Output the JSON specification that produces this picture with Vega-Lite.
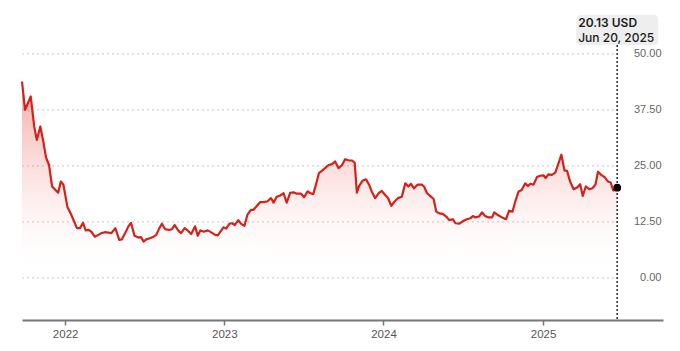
{
  "$schema": "https://vega.github.io/schema/vega-lite/v6.json",
  "width": 641,
  "height": 310,
  "autosize": {"type": "none"},
  "padding": {"left": 22, "top": 10, "right": 17, "bottom": 31},
  "background": "#ffffff",
  "config": {
    "view": {"stroke": null},
    "font": "Liberation Sans"
  },
  "datasets": {
    "prices": [
      {"d":"2021-09-24","v":43.8},{"d":"2021-10-01","v":37.5},{"d":"2021-10-14","v":40.5},{"d":"2021-10-22","v":33.8},
      {"d":"2021-10-28","v":30.8},{"d":"2021-11-05","v":33.8},{"d":"2021-11-12","v":30.4},{"d":"2021-11-18","v":26.9},
      {"d":"2021-11-25","v":25.2},{"d":"2021-12-02","v":20.4},{"d":"2021-12-16","v":19.0},{"d":"2021-12-22","v":21.5},
      {"d":"2021-12-28","v":20.8},{"d":"2022-01-06","v":15.9},{"d":"2022-01-15","v":14.1},{"d":"2022-01-28","v":11.1},
      {"d":"2022-02-04","v":11.1},{"d":"2022-02-11","v":12.3},{"d":"2022-02-17","v":10.6},{"d":"2022-02-24","v":10.7},
      {"d":"2022-03-02","v":10.3},{"d":"2022-03-10","v":9.2},{"d":"2022-03-18","v":9.6},{"d":"2022-03-25","v":10.0},
      {"d":"2022-04-02","v":10.2},{"d":"2022-04-10","v":10.1},{"d":"2022-04-17","v":10.0},{"d":"2022-04-26","v":11.1},
      {"d":"2022-05-05","v":8.5},{"d":"2022-05-11","v":8.6},{"d":"2022-05-19","v":10.1},{"d":"2022-05-26","v":11.5},
      {"d":"2022-06-01","v":12.3},{"d":"2022-06-09","v":9.4},{"d":"2022-06-18","v":9.0},{"d":"2022-06-24","v":9.1},
      {"d":"2022-06-30","v":8.1},{"d":"2022-07-06","v":8.6},{"d":"2022-07-16","v":8.9},{"d":"2022-07-23","v":9.2},
      {"d":"2022-07-29","v":9.6},{"d":"2022-08-05","v":11.1},{"d":"2022-08-11","v":12.1},{"d":"2022-08-18","v":10.9},
      {"d":"2022-08-28","v":10.7},{"d":"2022-09-03","v":10.9},{"d":"2022-09-09","v":11.8},{"d":"2022-09-18","v":10.5},
      {"d":"2022-09-24","v":10.0},{"d":"2022-10-02","v":11.1},{"d":"2022-10-09","v":10.6},{"d":"2022-10-17","v":9.8},
      {"d":"2022-10-26","v":11.5},{"d":"2022-11-01","v":9.4},{"d":"2022-11-07","v":10.6},{"d":"2022-11-15","v":10.3},
      {"d":"2022-11-24","v":10.6},{"d":"2022-12-03","v":10.1},{"d":"2022-12-11","v":9.6},{"d":"2022-12-17","v":9.5},
      {"d":"2022-12-30","v":11.3},{"d":"2023-01-05","v":11.0},{"d":"2023-01-13","v":12.1},{"d":"2023-01-19","v":12.2},
      {"d":"2023-01-25","v":11.8},{"d":"2023-02-02","v":12.9},{"d":"2023-02-08","v":12.1},{"d":"2023-02-16","v":11.6},
      {"d":"2023-02-23","v":14.1},{"d":"2023-03-03","v":15.2},{"d":"2023-03-09","v":15.2},{"d":"2023-03-17","v":16.1},
      {"d":"2023-03-24","v":16.9},{"d":"2023-04-02","v":16.9},{"d":"2023-04-10","v":17.1},{"d":"2023-04-18","v":17.8},
      {"d":"2023-04-24","v":16.8},{"d":"2023-05-01","v":18.1},{"d":"2023-05-09","v":18.4},{"d":"2023-05-17","v":18.9},
      {"d":"2023-05-24","v":16.8},{"d":"2023-06-01","v":19.0},{"d":"2023-06-09","v":19.1},{"d":"2023-06-16","v":18.8},
      {"d":"2023-06-26","v":18.8},{"d":"2023-07-03","v":18.0},{"d":"2023-07-11","v":19.3},{"d":"2023-07-18","v":18.9},
      {"d":"2023-07-24","v":18.7},{"d":"2023-07-30","v":20.8},{"d":"2023-08-06","v":23.4},{"d":"2023-08-14","v":24.0},
      {"d":"2023-08-20","v":24.5},{"d":"2023-08-28","v":25.2},{"d":"2023-09-05","v":25.4},{"d":"2023-09-12","v":26.0},
      {"d":"2023-09-20","v":24.5},{"d":"2023-09-28","v":25.2},{"d":"2023-10-05","v":26.5},{"d":"2023-10-14","v":26.2},
      {"d":"2023-10-21","v":26.2},{"d":"2023-10-27","v":25.7},{"d":"2023-11-01","v":19.0},{"d":"2023-11-06","v":20.5},
      {"d":"2023-11-14","v":21.7},{"d":"2023-11-22","v":22.0},{"d":"2023-11-29","v":20.8},{"d":"2023-12-05","v":19.3},
      {"d":"2023-12-13","v":17.8},{"d":"2023-12-21","v":18.9},{"d":"2023-12-28","v":19.4},{"d":"2024-01-05","v":18.5},
      {"d":"2024-01-11","v":17.9},{"d":"2024-01-19","v":16.1},{"d":"2024-01-26","v":17.0},{"d":"2024-02-03","v":17.8},
      {"d":"2024-02-12","v":18.1},{"d":"2024-02-20","v":21.1},{"d":"2024-02-27","v":20.4},{"d":"2024-03-04","v":21.0},
      {"d":"2024-03-11","v":20.0},{"d":"2024-03-19","v":20.8},{"d":"2024-03-29","v":20.8},{"d":"2024-04-03","v":20.4},
      {"d":"2024-04-10","v":18.9},{"d":"2024-04-17","v":18.3},{"d":"2024-04-25","v":17.6},{"d":"2024-05-01","v":14.8},
      {"d":"2024-05-08","v":14.4},{"d":"2024-05-16","v":14.3},{"d":"2024-05-24","v":13.7},{"d":"2024-05-31","v":12.9},
      {"d":"2024-06-08","v":13.1},{"d":"2024-06-14","v":12.2},{"d":"2024-06-23","v":12.1},{"d":"2024-07-02","v":12.7},
      {"d":"2024-07-10","v":13.1},{"d":"2024-07-18","v":13.3},{"d":"2024-07-24","v":13.8},{"d":"2024-07-30","v":13.5},
      {"d":"2024-08-07","v":13.7},{"d":"2024-08-14","v":14.6},{"d":"2024-08-21","v":13.8},{"d":"2024-08-29","v":13.5},
      {"d":"2024-09-06","v":13.5},{"d":"2024-09-11","v":14.6},{"d":"2024-09-18","v":14.1},{"d":"2024-09-29","v":13.5},
      {"d":"2024-10-08","v":13.1},{"d":"2024-10-15","v":15.0},{"d":"2024-10-23","v":14.8},{"d":"2024-10-29","v":17.0},
      {"d":"2024-11-06","v":19.3},{"d":"2024-11-13","v":19.6},{"d":"2024-11-21","v":21.1},{"d":"2024-11-27","v":20.5},
      {"d":"2024-12-03","v":21.0},{"d":"2024-12-10","v":20.8},{"d":"2024-12-18","v":22.5},{"d":"2024-12-25","v":22.8},
      {"d":"2025-01-02","v":22.9},{"d":"2025-01-07","v":22.3},{"d":"2025-01-13","v":23.1},{"d":"2025-01-21","v":23.0},
      {"d":"2025-01-29","v":23.5},{"d":"2025-02-04","v":25.2},{"d":"2025-02-12","v":27.5},{"d":"2025-02-19","v":24.0},
      {"d":"2025-02-25","v":23.9},{"d":"2025-03-04","v":21.5},{"d":"2025-03-12","v":19.8},{"d":"2025-03-20","v":20.2},
      {"d":"2025-03-27","v":20.9},{"d":"2025-04-02","v":18.3},{"d":"2025-04-09","v":20.4},{"d":"2025-04-17","v":19.8},
      {"d":"2025-04-24","v":20.0},{"d":"2025-05-01","v":20.8},{"d":"2025-05-07","v":23.7},{"d":"2025-05-14","v":23.0},
      {"d":"2025-05-22","v":22.5},{"d":"2025-05-30","v":21.5},{"d":"2025-06-05","v":21.3},{"d":"2025-06-11","v":19.5},
      {"d":"2025-06-20","v":20.13}
    ],
    "grid": [{"g":0},{"g":12.5},{"g":25},{"g":37.5},{"g":50}],
    "last": [{"d":"2025-06-20","v":20.13}]
  },
  "layer": [
    {
      "data": {"name": "grid"},
      "mark": {"type": "rule", "color": "#c8c8c8", "strokeWidth": 1, "strokeDash": [2, 3]},
      "encoding": {
        "x": {"datum": {"year": 2021, "month": 9, "date": 24}, "type": "temporal"},
        "x2": {"datum": {"year": 2025, "month": 6, "date": 20}},
        "y": {"field": "g", "type": "quantitative"}
      }
    },
    {
      "data": {"name": "prices"},
      "mark": {
        "type": "area",
        "line": false,
        "color": {
          "x1": 0, "y1": 0, "x2": 0, "y2": 1,
          "gradient": "linear",
          "stops": [
            {"offset": 0, "color": "rgba(224,50,40,0.40)"},
            {"offset": 0.5, "color": "rgba(236,90,80,0.16)"},
            {"offset": 1, "color": "rgba(255,255,255,0)"}
          ]
        }
      },
      "encoding": {
        "x": {
          "field": "d", "type": "temporal",
          "scale": {"domain": [{"year": 2021, "month": 9, "date": 24}, {"year": 2025, "month": 10, "date": 3}]},
          "axis": {
            "title": null,
            "format": "%Y",
            "tickCount": {"interval": "year", "step": 1},
            "grid": false,
            "domainColor": "#777777",
            "domainWidth": 2,
            "tickColor": "#777777",
            "tickSize": 5,
            "tickWidth": 1.5,
            "labelColor": "#555555",
            "labelFontSize": 11.5,
            "labelPadding": 3
          }
        },
        "y": {
          "field": "v", "type": "quantitative",
          "scale": {"domain": [-9.4, 59.8], "nice": false, "zero": false},
          "axis": {
            "orient": "right",
            "title": null,
            "values": [0, 12.5, 25, 37.5, 50],
            "format": ".2f",
            "grid": false,
            "domain": false,
            "ticks": false,
            "tickSize": 0,
            "labelAlign": "right",
            "labelBaseline": "middle",
            "labelPadding": -2,
            "labelColor": "#666666",
            "labelFontSize": 11
          }
        }
      }
    },
    {
      "data": {"name": "prices"},
      "mark": {"type": "line", "color": "#d2221a", "strokeWidth": 2.2, "strokeJoin": "round"},
      "encoding": {
        "x": {"field": "d", "type": "temporal"},
        "y": {"field": "v", "type": "quantitative"}
      }
    },
    {
      "data": {"name": "last"},
      "mark": {"type": "rule", "color": "#333333", "strokeWidth": 1.6, "strokeDash": [2, 2]},
      "encoding": {
        "x": {"field": "d", "type": "temporal"},
        "y": {"datum": 52.0},
        "y2": {"datum": -9.4}
      }
    },
    {
      "data": {"name": "last"},
      "mark": {"type": "point", "filled": true, "color": "#000000", "size": 60, "opacity": 1},
      "encoding": {
        "x": {"field": "d", "type": "temporal"},
        "y": {"field": "v", "type": "quantitative"}
      }
    },
    {
      "data": {"name": "last"},
      "mark": {"type": "rect", "color": "#eeeeee", "width": 82, "height": 30, "cornerRadius": 4},
      "encoding": {
        "x": {"field": "d", "type": "temporal"},
        "y": {"datum": 55.35}
      }
    },
    {
      "data": {"name": "last"},
      "mark": {"type": "text", "align": "left", "baseline": "middle", "dx": -39, "fontSize": 12, "fontWeight": 600, "color": "#1a1a1a", "font": "Inter"},
      "encoding": {
        "x": {"field": "d", "type": "temporal"},
        "y": {"datum": 56.9},
        "text": {"value": "20.13 USD"}
      }
    },
    {
      "data": {"name": "last"},
      "mark": {"type": "text", "align": "left", "baseline": "middle", "dx": -39, "fontSize": 12, "fontWeight": 500, "color": "#1a1a1a", "font": "Inter"},
      "encoding": {
        "x": {"field": "d", "type": "temporal"},
        "y": {"datum": 53.6},
        "text": {"value": "Jun 20, 2025"}
      }
    }
  ]
}
